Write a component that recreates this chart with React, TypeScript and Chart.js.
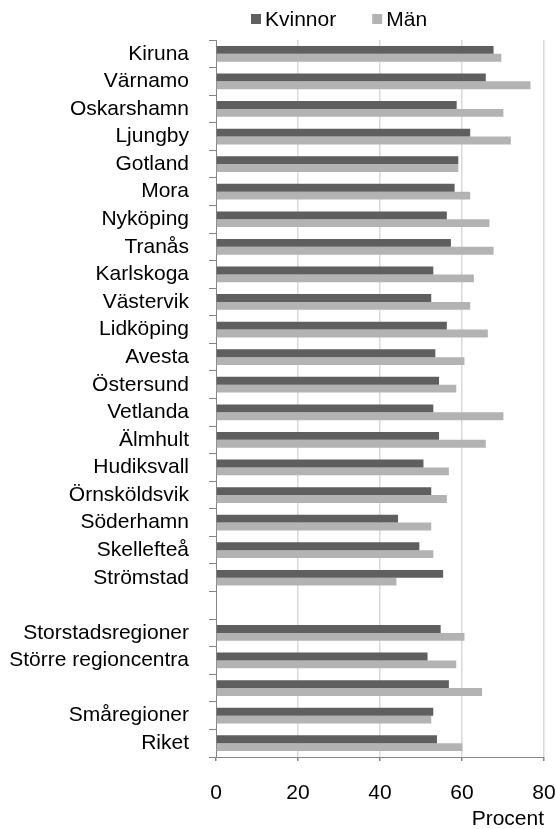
import React, { useEffect, useRef } from 'react';
import { Chart, registerables } from 'chart.js';

Chart.register(...registerables);

const categories = [
  'Kiruna', 'Värnamo', 'Oskarshamn', 'Ljungby', 'Gotland', 'Mora', 'Nyköping', 'Tranås',
  'Karlskoga', 'Västervik', 'Lidköping', 'Avesta', 'Östersund', 'Vetlanda', 'Älmhult',
  'Hudiksvall', 'Örnsköldsvik', 'Söderhamn', 'Skellefteå', 'Strömstad', '',
  'Storstadsregioner', 'Större regioncentra', '', 'Småregioner', 'Riket',
];
const kvinnor = [
  67.7, 65.8, 58.7, 62.0, 59.1, 58.2, 56.3, 57.3, 53.0, 52.5, 56.3, 53.5, 54.4, 53.0, 54.4,
  50.6, 52.5, 44.4, 49.6, 55.4, null, 54.8, 51.6, 56.8, 53.0, 53.9,
];
const man = [
  69.6, 76.7, 70.1, 71.9, 59.1, 62.0, 66.7, 67.7, 62.9, 62.0, 66.3, 60.6, 58.6, 70.1, 65.8,
  56.8, 56.3, 52.5, 53.0, 44.0, null, 60.6, 58.6, 64.9, 52.5, 60.1,
];
const seriesLabels = ['Kvinnor', 'Män'];
const seriesColors = ['#5f5f5f', '#b3b3b3'];
const xTickMin = 0;
const xTickMax = 80;
const xTickStep = 20;
const xTitle = 'Procent';

const FONT = '"Liberation Sans", Arial, sans-serif';

const legendPlugin = {
  id: 'topLegend',
  afterDraw(chart: any) {
    const ctx = chart.ctx;
    ctx.save();
    ctx.font = `21px ${FONT}`;
    ctx.textBaseline = 'middle';
    ctx.textAlign = 'left';
    let x = 251;
    const y = 19;
    chart.data.datasets.forEach((ds: any) => {
      ctx.fillStyle = ds.backgroundColor;
      ctx.fillRect(x, y - 5, 10, 10);
      x += 14;
      ctx.fillStyle = '#000';
      ctx.fillText(ds.label, x, y + 1);
      x += ctx.measureText(ds.label).width + 36;
    });
    ctx.restore();
  },
};

export default function App() {
  const ref = useRef<HTMLCanvasElement>(null);
  useEffect(() => {
    if (!ref.current) return;
    const chart = new Chart(ref.current, {
      type: 'bar',
      data: {
        labels: categories,
        datasets: [
          { label: seriesLabels[0], data: kvinnor, backgroundColor: seriesColors[0], borderWidth: 0 },
          { label: seriesLabels[1], data: man, backgroundColor: seriesColors[1], borderWidth: 0 },
        ],
      },
      options: {
        indexAxis: 'y',
        animation: false,
        responsive: false,
        devicePixelRatio: 1,
        datasets: { bar: { barPercentage: 1, categoryPercentage: 0.57 } },
        layout: { padding: { top: 40, right: 12, left: 0, bottom: 0 } },
        plugins: { legend: { display: false }, tooltip: { enabled: false } },
        scales: {
          y: {
            type: 'category',
            offset: true,
            afterFit: (s: any) => { s.width = 216; s.paddingTop = 0; s.paddingBottom = 0; },
            grid: {
              offset: true,
              drawOnChartArea: false,
              drawTicks: true,
              tickLength: 7,
              color: '#868686',
              lineWidth: 1,
            },
            border: { display: true, color: '#868686', width: 1 },
            ticks: {
              autoSkip: false,
              padding: 20,
              color: '#000',
              font: { family: FONT, size: 21 },
            },
          },
          x: {
            type: 'linear',
            min: xTickMin,
            max: xTickMax,
            afterFit: (s: any) => { s.height = 72; s.paddingLeft = 0; s.paddingRight = 0; },
            grid: {
              color: (c: any) => (c.tick && c.tick.value === 0 ? 'rgba(0,0,0,0)' : '#d9d9d9'),
              lineWidth: 1.5,
              tickColor: '#868686',
              tickLength: 4,
              drawTicks: true,
            },
            border: { display: true, color: '#868686', width: 1 },
            ticks: {
              stepSize: xTickStep,
              padding: 20,
              color: '#000',
              font: { family: FONT, size: 21 },
            },
            title: {
              display: true,
              text: xTitle,
              align: 'end',
              color: '#000',
              font: { family: FONT, size: 21 },
              padding: { top: 0, bottom: -3 },
            },
          },
        },
      },
      plugins: [legendPlugin],
    } as any);
    return () => chart.destroy();
  }, []);
  return (
    <div style={{ position: 'fixed', left: 0, top: 0, width: 556, height: 829, background: '#fff' }}>
      <canvas ref={ref} width={556} height={829} style={{ display: 'block' }} />
    </div>
  );
}
